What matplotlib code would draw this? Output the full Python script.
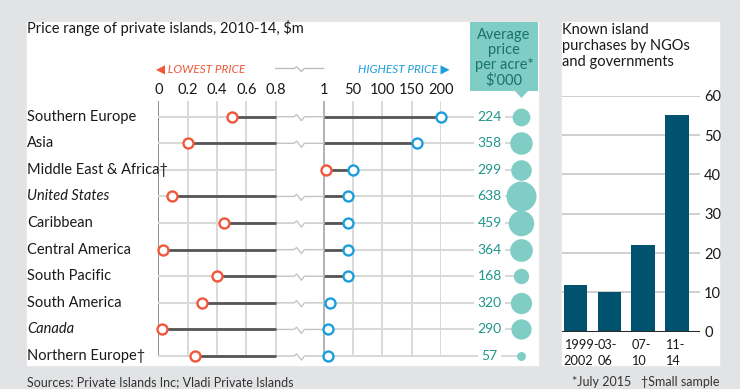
import numpy as np
import matplotlib
matplotlib.use("Agg")
import matplotlib.pyplot as plt
from matplotlib.patches import Rectangle, Polygon
from matplotlib.transforms import blended_transform_factory

# ---------------- data ----------------
regions = ["Southern Europe", "Asia", "Middle East & Africa\u2020", "United States", "Caribbean",
           "Central America", "South Pacific", "South America", "Canada", "Northern Europe\u2020"]
italic_regions = ["United States", "Canada"]
lowest_price = [0.5, 0.2, 5, 0.09, 0.45, 0.03, 0.4, 0.3, 0.025, 0.25]
highest_price = [200, 160, 50, 43, 42, 42, 42, 12, 9, 8]
price_per_acre = [224, 358, 299, 638, 459, 364, 168, 320, 290, 57]
price_ticks = [0, 0.2, 0.4, 0.6, 0.8, 1, 50, 100, 150, 200]
price_tick_labels = ["0", "0.2", "0.4", "0.6", "0.8", "1", "50", "100", "150", "200"]

periods = ["1999-\n2002", "03-\n06", "07-\n10", "11-\n14"]
purchases = [12, 10, 22, 55]
purchase_ticks = [0, 10, 20, 30, 40, 50, 60]

# ---------------- style ----------------
plt.rcParams['font.family'] = ['Lato', 'DejaVu Sans']
BG = '#e2e3e5'
RED = '#f0573b'
BLUE = '#1b9edb'
DARK = '#555555'
LIGHT = '#d9d9d9'
TEAL = '#7fcdc5'
TEAL_TXT = '#1f968c'
BAR = '#00526f'
TXT = '#1a1a1a'

W, H = 740, 389
fig = plt.figure(figsize=(W / 100, H / 100), dpi=100, facecolor=BG)

def fx(px):
    return px / W

def fy(py):
    return 1 - py / H

# white panels
fig.patches.append(Rectangle((fx(27), fy(365)), (538 - 27) / W, (365 - 22) / H,
                             transform=fig.transFigure, color='white', zorder=-10))
fig.patches.append(Rectangle((fx(562), fy(365)), (719 - 562) / W, (365 - 22) / H,
                             transform=fig.transFigure, color='white', zorder=-10))

# average price box
fig.patches.append(Rectangle((fx(470), fy(91)), (538 - 470) / W, (91 - 22) / H,
                             transform=fig.transFigure, color=TEAL, zorder=-5, lw=0))
fig.patches.append(Polygon([(fx(514.5), fy(90.5)), (fx(528.5), fy(90.5)), (fx(521.5), fy(98))],
                           closed=True, transform=fig.transFigure, color=TEAL, zorder=-5, lw=0))
fig.text(fx(504), fy(57.5), "Average\nprice\nper acre*\n$\u2019000", ha='center', va='center',
         fontsize=10.5, color='#1a726b', linespacing=1.08)

# ---------------- dot plot ----------------
GAP = 48 / 29.4

def fwd(v):
    v = np.asarray(v, dtype=float)
    return np.where(v <= 0.8, v / 0.2,
                    np.where(v >= 1, 4 + GAP + (v - 1) / 49.75, 4 + (v - 0.8) / 0.2 * GAP))

def inv(p):
    p = np.asarray(p, dtype=float)
    return np.where(p <= 4, p * 0.2,
                    np.where(p >= 4 + GAP, 1 + (p - 4 - GAP) * 49.75, 0.8 + (p - 4) / GAP * 0.2))

ax_l, ax_r, ax_t, ax_b = 158.3, 441.0, 101.0, 357.0
ax = fig.add_axes([fx(ax_l), fy(ax_b), (ax_r - ax_l) / W, (ax_b - ax_t) / H])
ax.set_facecolor('none')
ax.set_xscale('function', functions=(fwd, inv))
ax.set_xlim(0, 200)
row0_px, row_step = 116.7, 26.59
ax.set_ylim((ax_b - row0_px) / row_step, (ax_t - row0_px) / row_step)
for s in ax.spines.values():
    s.set_visible(False)
ax.xaxis.tick_top()
ax.set_xticks(price_ticks, price_tick_labels)
ax.minorticks_off()
ax.tick_params(axis='x', length=0, pad=3, labelsize=10.5, colors=TXT)
ax.set_yticks([])

for t in price_ticks:
    c = '#6e6e6e' if t == 0 else ('#9e9e9e' if t == 1 else '#cfcfcf')
    ax.axvline(t, color=c, lw=1.1, zorder=0)

# zigzag in gap (fractions of gap width, vertical offsets in rows)
zig_fx = np.array([0.0, 0.38, 0.44, 0.535, 0.6, 1.0])
zig_dy = np.array([0.0, 0.0, -0.08, 0.15, 0.0, 0.0])
zig_x = 0.8 + zig_fx * 0.2

blend_ax = blended_transform_factory(ax.transAxes, ax.transData)
blend_fig = blended_transform_factory(fig.transFigure, ax.transData)
num_x = (489.5 - ax_l) / (ax_r - ax_l)
bub_x = (521.3 - ax_l) / (ax_r - ax_l)
one_x = (323.3 - ax_l) / (ax_r - ax_l)

for i, (reg, lo, hi, acre) in enumerate(zip(regions, lowest_price, highest_price, price_per_acre)):
    kw = dict(solid_capstyle='butt', clip_on=False)
    ax.plot([0, 0.8], [i, i], color=LIGHT, lw=1.5, zorder=1, **kw)
    ax.plot([one_x, bub_x], [i, i], color=LIGHT, lw=1.5, zorder=1, transform=blend_ax, **kw)
    if lo <= 0.8:
        ax.plot(zig_x, i + zig_dy, color='#c4c4c4', lw=1.0, zorder=1, clip_on=False)
        ax.plot([lo, 0.8], [i, i], color=DARK, lw=2.0, zorder=2, **kw)
        ax.plot([1, hi], [i, i], color=DARK, lw=2.0, zorder=2, **kw)
    else:
        ax.plot([lo, hi], [i, i], color=DARK, lw=2.0, zorder=2, **kw)
    ax.plot(lo, i, 'o', mfc='white', mec=RED, mew=1.7, ms=7.2, zorder=5, clip_on=False)
    ax.plot(hi, i, 'o', mfc='white', mec=BLUE, mew=1.7, ms=7.2, zorder=5, clip_on=False)
    ax.text(num_x, i, str(acre), transform=blend_ax, ha='center', va='center', fontsize=10,
            color=TEAL_TXT, zorder=4,
            bbox=dict(boxstyle='square,pad=0.25', fc='white', ec='none'))
    ax.scatter([bub_x], [i], s=acre * 0.731, color=TEAL, transform=blend_ax, zorder=4,
               clip_on=False, linewidths=0)
    style = 'italic' if reg in italic_regions else 'normal'
    ax.text(fx(27), i, reg, transform=blend_fig, ha='left', va='center', fontsize=10.5,
            color=TXT, style=style)

# header legend
fig.text(fx(156), fy(69), "\u25C0 LOWEST PRICE", ha='left', va='center', fontsize=8.5,
         color=RED, style='italic')
fig.text(fx(450), fy(69), "HIGHEST PRICE \u25B6", ha='right', va='center', fontsize=8.5,
         color=BLUE, style='italic')
blend_head = blended_transform_factory(ax.transData, fig.transFigure)
ax.plot(zig_x, fy(68.5) - zig_dy * 0.75 * row_step / H, color='#bdbdbd', lw=1.0,
        transform=blend_head, clip_on=False)

# titles
fig.text(fx(27), fy(28), "Price range of private islands, 2010-14, $m", ha='left', va='center',
         fontsize=10.5, color=TXT)
fig.text(fx(562), fy(23), "Known island\npurchases by NGOs\nand governments", ha='left', va='top',
         fontsize=10.5, color=TXT, linespacing=1.2)

# footer
fig.text(fx(27), fy(382), "Sources: Private Islands Inc; Vladi Private Islands", ha='left',
         va='center', fontsize=9, color='#333333')
fig.text(fx(719), fy(382), "*July 2015   \u2020Small sample", ha='right', va='center',
         fontsize=9, color='#333333')

# ---------------- bar chart ----------------
bx = fig.add_axes([fx(562), fy(331.7), (700 - 562) / W, (331.7 - 95.7) / H])
bx.set_facecolor('none')
pos = np.arange(len(purchases))
bw = 0.7
bx.bar(pos, purchases, width=bw, color=BAR, zorder=2)
bx.set_xlim(-0.4, 3.68)
bx.set_ylim(0, 60)
bx.set_yticks(purchase_ticks)
bx.yaxis.tick_right()
bx.tick_params(axis='y', length=0, pad=3, labelsize=10.5, colors=TXT)
bx.yaxis.grid(True, color='#cbcbcb', lw=1.3, zorder=0)
bx.axhline(0, color='#2a2a2a', lw=1.5, zorder=3)
bx.set_xticks(pos - bw / 2, periods, ha='left')
bx.tick_params(axis='x', length=0, pad=5, labelsize=9.2, colors=TXT)
for lab in bx.get_xticklabels():
    lab.set_linespacing(1.45)
for s in bx.spines.values():
    s.set_visible(False)

fig.savefig('out.png', dpi=100, facecolor=BG)
